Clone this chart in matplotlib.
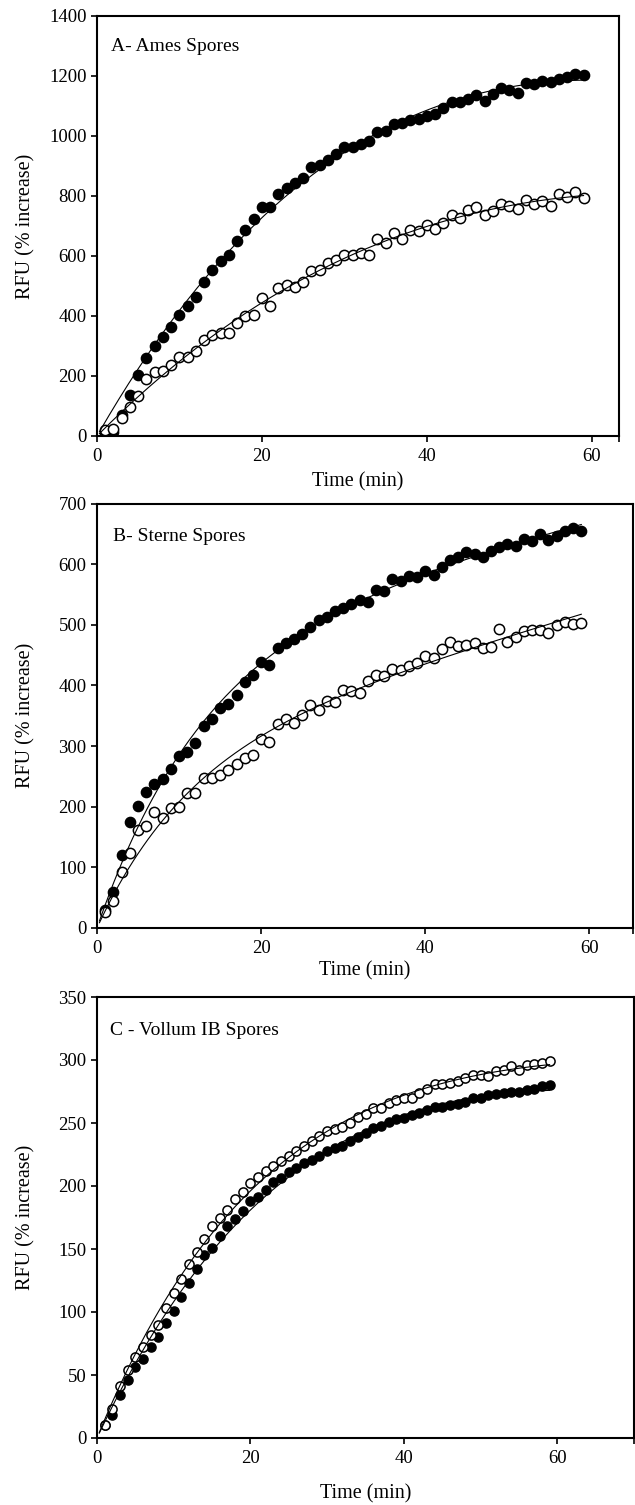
import numpy as np
import matplotlib
matplotlib.use("Agg")
import matplotlib.pyplot as plt

plt.rcParams['font.family'] = ['Liberation Serif', 'DejaVu Serif']

# ---------------- data ----------------
time_min = list(range(1, 60))

ames_filled = [10, 15, 70, 138, 205, 260, 300, 330, 365, 405, 432, 462, 513, 553, 582, 605,
               650, 688, 724, 764, 764, 808, 828, 845, 860, 898, 905, 920, 940, 962, 965, 975,
               985, 1012, 1018, 1040, 1045, 1055, 1058, 1068, 1075, 1095, 1115, 1112, 1122,
               1138, 1118, 1140, 1160, 1155, 1145, 1178, 1172, 1183, 1180, 1190, 1198, 1207, 1205]
ames_open = [20, 22, 60, 98, 132, 190, 215, 218, 237, 265, 265, 285, 320, 337, 345, 343,
             378, 400, 403, 460, 435, 492, 505, 497, 515, 550, 555, 578, 588, 605, 605, 610,
             605, 657, 643, 678, 658, 688, 683, 705, 690, 710, 737, 728, 752, 762, 737, 750,
             775, 767, 757, 787, 773, 782, 768, 808, 797, 815, 793]

sterne_filled = [30, 60, 120, 175, 202, 225, 238, 245, 263, 283, 290, 305, 333, 345, 363, 370,
                 385, 405, 417, 438, 433, 462, 470, 477, 485, 497, 508, 513, 522, 528, 535, 541,
                 537, 558, 555, 576, 572, 580, 578, 588, 582, 595, 607, 612, 620, 617, 612, 622,
                 628, 634, 630, 642, 638, 650, 640, 646, 655, 660, 655]
sterne_open = [27, 45, 93, 123, 162, 168, 192, 182, 198, 200, 222, 223, 248, 247, 252, 260,
               270, 280, 285, 312, 307, 336, 344, 338, 352, 368, 360, 375, 373, 393, 390, 387,
               407, 418, 415, 427, 425, 432, 437, 448, 445, 460, 472, 465, 466, 470, 462, 463,
               493, 472, 480, 490, 492, 491, 487, 500, 505, 502, 503]

vollum_filled = [10, 18, 34, 46, 56, 63, 72, 80, 91, 101, 112, 123, 134, 145, 151, 160, 168,
                 174, 180, 188, 191, 197, 203, 206, 211, 214, 218, 221, 224, 228, 230, 232,
                 236, 239, 242, 246, 248, 251, 253, 254, 256, 258, 260, 263, 263, 264, 265,
                 267, 270, 270, 272, 273, 274, 275, 275, 276, 277, 279, 280]
vollum_open = [10, 23, 41, 54, 64, 72, 82, 90, 103, 115, 126, 138, 148, 158, 168, 175, 181,
               190, 195, 202, 207, 212, 216, 220, 224, 228, 232, 236, 240, 244, 245, 247, 250,
               255, 257, 262, 262, 266, 268, 270, 270, 274, 277, 281, 281, 282, 283, 286, 288,
               288, 287, 291, 292, 295, 292, 296, 297, 298, 299]

panel_titles = ["A- Ames Spores", "B- Sterne Spores", "C - Vollum IB Spores"]
y_limits = [1400, 700, 350]
y_steps = [200, 100, 50]
x_limits = [63.3, 65.3, 70]
x_ticks = [0, 20, 40, 60]


def fit_curve(t, y):
    """Least-squares fit of y = a(1-exp(-k t)) + c t, k by grid search."""
    t = np.asarray(t, float)
    y = np.asarray(y, float)
    best = None
    for k in np.linspace(0.003, 0.6, 600):
        A = np.column_stack([1 - np.exp(-k * t), t])
        coef, res, *_ = np.linalg.lstsq(A, y, rcond=None)
        r = np.sum((A @ coef - y) ** 2)
        if best is None or r < best[0]:
            best = (r, k, coef)
    _, k, coef = best
    tt = np.linspace(0.3, t.max(), 200)
    return tt, coef[0] * (1 - np.exp(-k * tt)) + coef[1] * tt


W, H = 635, 1505
fig = plt.figure(figsize=(W / 100, H / 100), dpi=100)

# axes boxes in pixels: left, right, top, bottom
boxes = [(97, 619, 16, 436), (97, 633, 503.5, 928), (97, 634, 997, 1438)]
title_pos = [(110.7, 51.3), (112.7, 541.3), (110, 1035.3)]
xlabel_top = [472, 961, 1484]
ylabel_right = 35
msizes = [7.4, 7.4, 6.6]

series = [(ames_filled, ames_open), (sterne_filled, sterne_open), (vollum_filled, vollum_open)]

for i, (l, r, t, b) in enumerate(boxes):
    ax = fig.add_axes([l / W, 1 - b / H, (r - l) / W, (b - t) / H])
    filled, opened = series[i]
    ms = msizes[i]
    ax.plot(time_min, filled, linestyle='none', marker='o', ms=ms,
            mfc='black', mec='black', mew=1.0, zorder=2)
    ax.plot(time_min, opened, linestyle='none', marker='o', ms=ms,
            mfc='white', mec='black', mew=1.1, zorder=3)
    for yy in (filled, opened):
        tt, ff = fit_curve(time_min, yy)
        ax.plot(tt, ff, color='black', lw=0.8, zorder=4)

    ax.set_xlim(0, x_limits[i])
    ax.set_ylim(0, y_limits[i])
    ax.set_xticks(x_ticks)
    ax.set_yticks(np.arange(0, y_limits[i] + 1, y_steps[i]))
    ax.set_xticks([x_limits[i]], minor=True)
    ax.tick_params(which='both', direction='out', length=4.5, width=1.2,
                   labelsize=13.5, pad=3, color='black')
    ax.tick_params(axis='x', pad=4)
    for sp in ax.spines.values():
        sp.set_linewidth(1.5)
        sp.set_color('black')

    ax.set_xlabel("Time (min)", fontsize=14.5)
    ax.set_ylabel("RFU (% increase)", fontsize=14.5)
    ax.xaxis.set_label_coords(0.5, -(xlabel_top[i] - b) / (b - t))
    ax.yaxis.set_label_coords((ylabel_right - l) / (r - l), 0.5)
    ax.xaxis.label.set_verticalalignment('top')

    tx, ty = title_pos[i]
    ax.text((tx - l) / (r - l), 1 - (ty - t) / (b - t), panel_titles[i],
            transform=ax.transAxes, fontsize=14, ha='left', va='baseline')

fig.savefig("out.png", dpi=100)
